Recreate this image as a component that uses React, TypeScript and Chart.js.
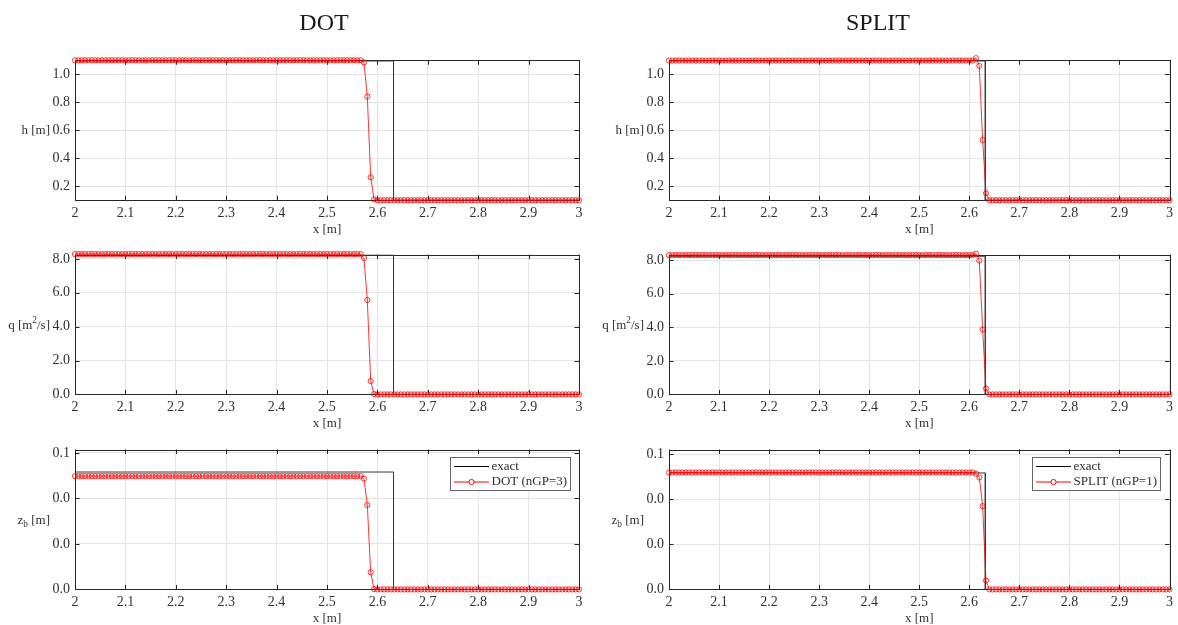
import React, { useEffect, useRef } from "react";
import { Chart, registerables } from "chart.js";

Chart.register(...registerables);

const FONT = '"Liberation Serif", "Times New Roman", Times, serif';
const TXT = "#303030";
const AXIS = "#262626";
const GRID = "#e4e4e4";
const RED = "#ff0000";

// ---------- data ----------
// mesh of cell positions (x [m]) on the plotted window
const xGrid: number[] = Array.from({ length: 151 }, (_, i) => 2 + i / 150);
const xTicks = [2, 2.1, 2.2, 2.3, 2.4, 2.5, 2.6, 2.7, 2.8, 2.9, 3];

const hTicks = [0.2, 0.4, 0.6, 0.8, 1.0];
const qTicks = [0, 2, 4, 6, 8];
const zbTicks = [0, 0.02, 0.04, 0.06];

// exact (step) solution
const exactX = [2, 2.632, 2.632, 3];
const exactH = [1.095, 1.095, 0.1, 0.1];
const exactQ = [8.23, 8.23, 0, 0];
const exactZb = [0.0516, 0.0516, 0, 0];

const rep = (v: number, n: number) => Array(n).fill(v) as number[];

// DOT (nGP=3)
const dotH = [...rep(1.1, 86), 1.085, 0.84, 0.264, 0.105, ...rep(0.1, 61)];
const dotQ = [...rep(8.28, 86), 8.05, 5.57, 0.79, 0.02, ...rep(0, 61)];
const dotZb = [...rep(0.0498, 86), 0.0487, 0.0371, 0.0075, 0.0002, ...rep(0, 61)];

// SPLIT (nGP=1)
const splitH = [...rep(1.098, 92), 1.115, 1.06, 0.53, 0.15, ...rep(0.1, 55)];
const splitQ = [...rep(8.3, 92), 8.38, 7.98, 3.87, 0.35, ...rep(0, 55)];
const splitZb = [...rep(0.0518, 92), 0.0513, 0.0496, 0.0369, 0.0039, ...rep(0, 55)];

// ---------- layout ----------
const COLS = [
  { canvasLeft: 0, width: 589, plotLeft: 75, plotRight: 579, title: "DOT", titleX: 324 },
  { canvasLeft: 589, width: 589, plotLeft: 669, plotRight: 1173, title: "SPLIT", titleX: 878 },
];
const ROWS = [
  { canvasTop: 0, height: 240, plotTop: 60.3, plotBottom: 200.2 },
  { canvasTop: 240, height: 195, plotTop: 254.6, plotBottom: 394.4 },
  { canvasTop: 435, height: 190, plotTop: 449.5, plotBottom: 589.4 },
];

type Part = [string, number]; // text, 0 normal / 1 sup / -1 sub

interface Panel {
  col: number;
  row: number;
  red: number[];
  exact: number[];
  ymin: number;
  ymax: number;
  yticks: number[];
  ylabel: Part[];
  method: string;
  legend: boolean;
}

const hLabel: Part[] = [["h [m]", 0]];
const qLabel: Part[] = [["q [m", 0], ["2", 1], ["/s]", 0]];
const zbLabel: Part[] = [["z", 0], ["b", -1], [" [m]", 0]];

const PANELS: Panel[] = [
  { col: 0, row: 0, red: dotH, exact: exactH, ymin: 0.1, ymax: 1.1, yticks: hTicks, ylabel: hLabel, method: "DOT (nGP=3)", legend: false },
  { col: 0, row: 1, red: dotQ, exact: exactQ, ymin: 0, ymax: 8.25, yticks: qTicks, ylabel: qLabel, method: "DOT (nGP=3)", legend: false },
  { col: 0, row: 2, red: dotZb, exact: exactZb, ymin: 0, ymax: 0.0615, yticks: zbTicks, ylabel: zbLabel, method: "DOT (nGP=3)", legend: true },
  { col: 1, row: 0, red: splitH, exact: exactH, ymin: 0.1, ymax: 1.1, yticks: hTicks, ylabel: hLabel, method: "SPLIT (nGP=1)", legend: false },
  { col: 1, row: 1, red: splitQ, exact: exactQ, ymin: 0, ymax: 8.33, yticks: qTicks, ylabel: qLabel, method: "SPLIT (nGP=1)", legend: false },
  { col: 1, row: 2, red: splitZb, exact: exactZb, ymin: 0, ymax: 0.062, yticks: zbTicks, ylabel: zbLabel, method: "SPLIT (nGP=1)", legend: true },
];

function drawRich(ctx: CanvasRenderingContext2D, parts: Part[], rightX: number, centerY: number, size: number) {
  const small = size * 0.72;
  const widths = parts.map(([t, k]) => {
    ctx.font = `${k ? small : size}px ${FONT}`;
    return ctx.measureText(t).width;
  });
  const total = widths.reduce((a, b) => a + b, 0);
  let x = rightX - total;
  const base = centerY + size * 0.32;
  ctx.textBaseline = "alphabetic";
  ctx.textAlign = "left";
  parts.forEach(([t, k], i) => {
    ctx.font = `${k ? small : size}px ${FONT}`;
    const dy = k === 1 ? -size * 0.42 : k === -1 ? size * 0.28 : 0;
    ctx.fillText(t, x, base + dy);
    x += widths[i];
  });
}

function framePlugin(p: Panel) {
  const col = COLS[p.col];
  const row = ROWS[p.row];
  return {
    id: "frame",
    beforeDatasetsDraw(chart: any) {
      const { ctx, chartArea: ca, scales } = chart;
      ctx.save();
      ctx.strokeStyle = AXIS;
      ctx.lineWidth = 1;
      const tl = 4.5;
      ctx.beginPath();
      xTicks.forEach((v) => {
        const px = Math.round(scales.x.getPixelForValue(v)) + 0.5;
        ctx.moveTo(px, ca.bottom);
        ctx.lineTo(px, ca.bottom - tl);
        ctx.moveTo(px, ca.top);
        ctx.lineTo(px, ca.top + tl);
      });
      p.yticks.forEach((v) => {
        const py = Math.round(scales.y.getPixelForValue(v)) + 0.5;
        ctx.moveTo(ca.left, py);
        ctx.lineTo(ca.left + tl, py);
        ctx.moveTo(ca.right, py);
        ctx.lineTo(ca.right - tl, py);
      });
      ctx.stroke();
      ctx.strokeRect(
        Math.round(ca.left) + 0.5,
        Math.round(ca.top) + 0.5,
        Math.round(ca.right) - Math.round(ca.left),
        Math.round(ca.bottom) - Math.round(ca.top)
      );
      ctx.restore();
    },
    afterDraw(chart: any) {
      const { ctx, chartArea: ca } = chart;
      ctx.save();
      ctx.fillStyle = TXT;
      // x label
      ctx.font = `13px ${FONT}`;
      ctx.textAlign = "center";
      ctx.textBaseline = "middle";
      ctx.fillText("x [m]", (ca.left + ca.right) / 2, ca.bottom + 29.5);
      // y label (horizontal)
      drawRich(ctx, p.ylabel, ca.left - 25, (ca.top + ca.bottom) / 2, 13);
      // column title
      if (p.row === 0) {
        ctx.fillStyle = "#1a1a1a";
        ctx.font = `24px ${FONT}`;
        ctx.textAlign = "center";
        ctx.textBaseline = "alphabetic";
        ctx.fillText(col.title, col.titleX - col.canvasLeft, 29.5 - row.canvasTop);
      }
      // legend
      if (p.legend) {
        ctx.font = `13px ${FONT}`;
        const tw = ctx.measureText(p.method).width;
        const bw = Math.round(44 + tw);
        const bh = 33;
        const bx = Math.round(ca.right - 9.5 - bw) + 0.5;
        const by = Math.round(ca.top + 7) + 0.5;
        ctx.fillStyle = "#ffffff";
        ctx.fillRect(bx, by, bw, bh);
        ctx.strokeStyle = "#666666";
        ctx.lineWidth = 1;
        ctx.strokeRect(bx, by, bw, bh);
        const y1 = by + 9;
        const y2 = by + 24.5;
        ctx.strokeStyle = "#000000";
        ctx.beginPath();
        ctx.moveTo(bx + 3.5, y1);
        ctx.lineTo(bx + 38.5, y1);
        ctx.stroke();
        ctx.strokeStyle = RED;
        ctx.lineWidth = 1;
        ctx.beginPath();
        ctx.moveTo(bx + 3.5, y2);
        ctx.lineTo(bx + 38.5, y2);
        ctx.stroke();
        ctx.beginPath();
        ctx.arc(bx + 21, y2, 2.6, 0, Math.PI * 2);
        ctx.fillStyle = "#ffffff";
        ctx.fill();
        ctx.stroke();
        ctx.fillStyle = TXT;
        ctx.textAlign = "left";
        ctx.textBaseline = "middle";
        ctx.fillText("exact", bx + 41, y1);
        ctx.fillText(p.method, bx + 41, y2);
      }
      ctx.restore();
    },
  };
}

function makeChart(canvas: HTMLCanvasElement, p: Panel) {
  const col = COLS[p.col];
  const row = ROWS[p.row];
  const W = col.width;
  const H = row.height;
  canvas.width = W;
  canvas.height = H;
  const yW = col.plotLeft - col.canvasLeft;
  const padRight = col.canvasLeft + W - col.plotRight;
  const padTop = row.plotTop - row.canvasTop;
  const xH = row.canvasTop + H - row.plotBottom;
  const tickFont = { family: FONT, size: 14 };
  return new Chart(canvas, {
    type: "line",
    data: {
      datasets: [
        {
          label: p.method,
          data: xGrid.map((x, i) => ({ x, y: p.red[i] })),
          borderColor: RED,
          borderWidth: 0.8,
          pointRadius: 2.6,
          pointStyle: "circle",
          pointBorderColor: RED,
          pointBackgroundColor: "rgba(255,255,255,0)",
          pointBorderWidth: 0.8,
          clip: false as any,
          tension: 0,
        },
        {
          label: "exact",
          data: exactX.map((x, i) => ({ x, y: p.exact[i] })),
          borderColor: "#3a3a3a",
          borderWidth: 1,
          pointRadius: 0,
          tension: 0,
        },
      ],
    },
    options: {
      responsive: false,
      animation: false,
      events: [],
      layout: { padding: { left: 0, right: padRight, top: padTop, bottom: 0 } },
      plugins: {
        legend: { display: false },
        tooltip: { enabled: false },
        title: { display: false },
      },
      scales: {
        x: {
          type: "linear",
          min: 2,
          max: 3,
          afterBuildTicks: (s: any) => {
            s.ticks = xTicks.map((v) => ({ value: v }));
          },
          afterFit: (s: any) => {
            s.height = xH;
          },
          ticks: {
            autoSkip: false,
            maxRotation: 0,
            padding: 5,
            font: tickFont,
            color: TXT,
            callback: (v: any) => String(v),
          },
          grid: { color: GRID, drawTicks: false, lineWidth: 1 },
          border: { display: false },
        },
        y: {
          type: "linear",
          min: p.ymin,
          max: p.ymax,
          afterBuildTicks: (s: any) => {
            s.ticks = p.yticks.map((v) => ({ value: v }));
          },
          afterFit: (s: any) => {
            s.width = yW;
          },
          ticks: {
            autoSkip: false,
            padding: 5,
            font: tickFont,
            color: TXT,
            callback: (v: any) => Number(v).toFixed(1),
          },
          grid: { color: GRID, drawTicks: false, lineWidth: 1 },
          border: { display: false },
        },
      },
    } as any,
    plugins: [framePlugin(p)],
  });
}

export default function App() {
  const refs = useRef<(HTMLCanvasElement | null)[]>([]);
  useEffect(() => {
    const charts = PANELS.map((p, i) => makeChart(refs.current[i] as HTMLCanvasElement, p));
    return () => charts.forEach((c) => c.destroy());
  }, []);
  return (
    <div style={{ position: "absolute", left: 0, top: 0, width: 1178, height: 625, background: "#ffffff", overflow: "hidden" }}>
      {PANELS.map((p, i) => {
        const col = COLS[p.col];
        const row = ROWS[p.row];
        return (
          <canvas
            key={i}
            ref={(el) => {
              refs.current[i] = el;
            }}
            style={{ position: "absolute", left: col.canvasLeft, top: row.canvasTop, width: col.width, height: row.height }}
          />
        );
      })}
    </div>
  );
}
